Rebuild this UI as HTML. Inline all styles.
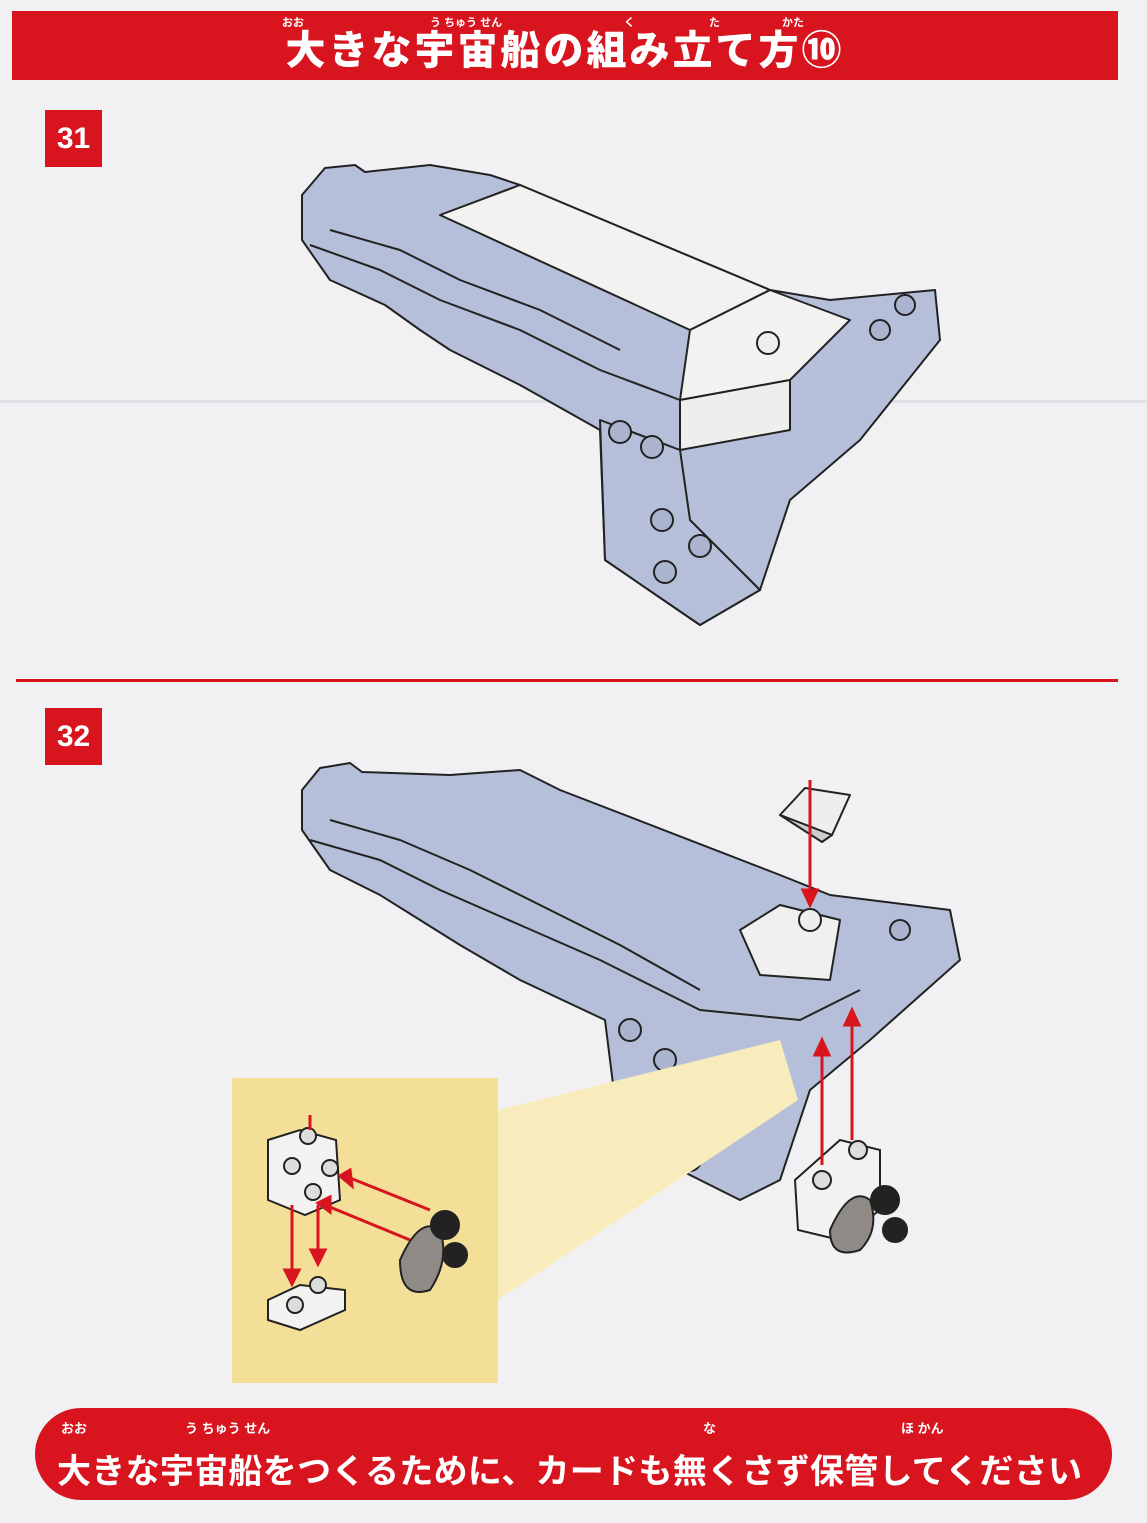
<!DOCTYPE html>
<html><head><meta charset="utf-8"><style>
html,body{margin:0;padding:0;}
body{width:1147px;height:1523px;background:#f1f1f4;position:relative;overflow:hidden;font-family:"Liberation Sans","Noto Sans CJK JP",sans-serif;}
.banner{position:absolute;left:12px;top:11px;width:1106px;height:69px;background:#d8141e;}
.title{position:absolute;left:0;width:1106px;top:16px;text-align:center;color:#fff;font-size:40px;line-height:48px;font-weight:900;letter-spacing:3px;}
.ruby{position:absolute;top:3px;color:#fff;font-size:11px;font-weight:700;}
.num{position:absolute;width:57px;height:57px;background:#d8141e;color:#fff;font-weight:900;font-size:30px;text-align:center;line-height:57px;}
.bar{position:absolute;left:35px;top:1408px;width:1077px;height:92px;background:#d8141e;border-radius:46px;}
.btext{position:absolute;left:22px;top:36px;color:#fff;font-size:34px;font-weight:700;white-space:nowrap;letter-spacing:0.3px;}
</style></head><body>
<div style="position:absolute;left:0;top:400px;width:1147px;height:3px;background:#e2e2e6"></div>
<div class="banner">
 <span class="ruby" style="left:270px">おお</span>
 <span class="ruby" style="left:418px">う ちゅう せん</span>
 <span class="ruby" style="left:612px">く</span>
 <span class="ruby" style="left:697px">た</span>
 <span class="ruby" style="left:770px">かた</span>
 <div class="title">大きな宇宙船の組み立て方⑩</div>
</div>
<div class="num" style="left:45px;top:110px">31</div>
<div style="position:absolute;left:16px;top:679px;width:1102px;height:3px;background:#d8141e"></div>
<div class="num" style="left:45px;top:708px">32</div>

<svg width="1147" height="1523" style="position:absolute;left:0;top:0" xmlns="http://www.w3.org/2000/svg">
<g stroke="#222" stroke-width="2" stroke-linejoin="round">
 <polygon points="302,240 302,195 325,168 355,165 365,172 430,165 490,175 520,185 770,290 830,300 935,290 940,340 860,440 790,500 760,590 700,625 605,560 600,430 520,385 450,350 420,330 385,305 330,280" fill="#b5bfd9"/>
 <polygon points="440,215 520,185 770,290 690,330" fill="#f2f2f0"/>
 <polygon points="690,330 770,290 850,320 790,380 680,400" fill="#f2f2f0"/>
 <polygon points="680,400 790,380 790,430 680,450" fill="#eeeeec"/>
 <polygon points="600,420 680,450 690,520 760,590 700,625 605,560" fill="#b5bfd9"/>
 <polyline points="310,245 380,270 440,300 520,330 600,370 680,400" fill="none"/>
 <polyline points="330,230 400,250 460,280 540,310 620,350" fill="none"/>
 <circle cx="768" cy="343" r="11" fill="#eee"/>
 <circle cx="620" cy="432" r="11" fill="#aab4cf"/><circle cx="652" cy="447" r="11" fill="#aab4cf"/>
 <circle cx="662" cy="520" r="11" fill="#aab4cf"/><circle cx="700" cy="546" r="11" fill="#aab4cf"/>
 <circle cx="665" cy="572" r="11" fill="#aab4cf"/><circle cx="880" cy="330" r="10" fill="#aab4cf"/>
 <circle cx="905" cy="305" r="10" fill="#aab4cf"/>
 <polygon points="302,830 302,790 320,768 350,763 362,772 450,775 520,770 560,790 780,875 830,895 950,910 960,960 870,1040 810,1090 780,1180 740,1200 620,1140 605,1020 520,980 460,945 420,920 380,895 330,870" fill="#b5bfd9"/>
 <polygon points="740,930 780,905 840,920 830,980 760,975" fill="#f0f0ee"/>
 <polyline points="310,840 380,860 440,890 520,925 600,960 700,1010 800,1020 860,990" fill="none"/>
 <polyline points="330,820 400,840 470,870 540,905 620,945 700,990" fill="none"/>
 <circle cx="810" cy="920" r="11" fill="#eee"/>
 <circle cx="630" cy="1030" r="11" fill="#aab4cf"/><circle cx="665" cy="1060" r="11" fill="#aab4cf"/>
 <circle cx="665" cy="1090" r="11" fill="#aab4cf"/><circle cx="720" cy="1130" r="11" fill="#aab4cf"/>
 <circle cx="690" cy="1160" r="11" fill="#aab4cf"/><circle cx="900" cy="930" r="10" fill="#aab4cf"/>
 <polygon points="780,815 805,788 850,795 832,835" fill="#eee"/>
 <polygon points="780,815 832,835 822,842" fill="#ccc"/>
</g>
<polygon points="498,1110 780,1040 798,1100 498,1300" fill="#f8ecbd"/>
<rect x="232" y="1078" width="266" height="305" fill="#f4df98"/>
<g stroke="#222" stroke-width="2">
 <polygon points="268,1140 300,1130 336,1140 340,1200 305,1215 268,1200" fill="#f2f2f0"/>
 <polygon points="268,1300 300,1285 345,1290 345,1310 300,1330 268,1320" fill="#f2f2f0"/>
 <circle cx="295" cy="1305" r="8" fill="#ddd"/><circle cx="318" cy="1285" r="8" fill="#ddd"/>
 <circle cx="308" cy="1136" r="8" fill="#ddd"/><circle cx="292" cy="1166" r="8" fill="#ddd"/>
 <circle cx="330" cy="1168" r="8" fill="#ddd"/><circle cx="313" cy="1192" r="8" fill="#ddd"/>
 <path d="M400,1260 q20,-45 40,-30 q10,30 -10,60 q-30,10 -30,-30z" fill="#8f8a85"/>
 <circle cx="445" cy="1225" r="14" fill="#222"/><circle cx="455" cy="1255" r="12" fill="#222"/>
 <polygon points="795,1180 840,1140 880,1150 880,1210 840,1240 798,1230" fill="#f2f2f0"/>
 <circle cx="822" cy="1180" r="9" fill="#ddd"/><circle cx="858" cy="1150" r="9" fill="#ddd"/>
 <path d="M830,1230 q20,-45 40,-30 q10,30 -10,50 q-30,10 -30,-20z" fill="#8f8a85"/>
 <circle cx="885" cy="1200" r="14" fill="#222"/><circle cx="895" cy="1230" r="12" fill="#222"/>
</g>
<g stroke="#d8141e" stroke-width="3" fill="#d8141e">
 <line x1="810" y1="780" x2="810" y2="895"/><polygon points="803,890 817,890 810,905"/>
 <line x1="822" y1="1165" x2="822" y2="1050"/><polygon points="815,1055 829,1055 822,1040"/>
 <line x1="852" y1="1140" x2="852" y2="1020"/><polygon points="845,1025 859,1025 852,1010"/>
 <line x1="310" y1="1115" x2="310" y2="1130"/>
 <line x1="430" y1="1210" x2="350" y2="1178"/><polygon points="350,1170 340,1176 352,1186"/>
 <line x1="410" y1="1240" x2="325" y2="1205"/><polygon points="330,1197 318,1203 330,1212"/>
 <line x1="292" y1="1205" x2="292" y2="1275"/><polygon points="285,1270 299,1270 292,1284"/>
 <line x1="318" y1="1205" x2="318" y2="1255"/><polygon points="311,1250 325,1250 318,1264"/>
</g>
</svg>

<div class="bar">
 <span class="ruby" style="left:26px;top:10px;font-size:13px">おお</span>
 <span class="ruby" style="left:150px;top:10px;font-size:13px">う ちゅう せん</span>
 <span class="ruby" style="left:668px;top:10px;font-size:13px">な</span>
 <span class="ruby" style="left:866px;top:10px;font-size:13px">ほ かん</span>
 <div class="btext">大きな宇宙船をつくるために、カードも無くさず保管してください</div>
</div>
</body></html>
